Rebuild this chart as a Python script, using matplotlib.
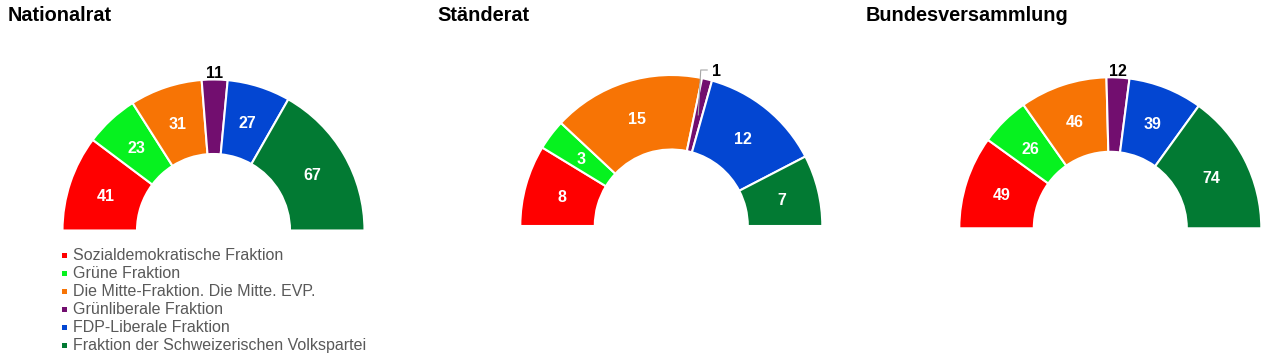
import matplotlib
matplotlib.use("Agg")
import matplotlib.pyplot as plt
import numpy as np
from matplotlib.patches import Rectangle

plt.rcParams['font.family'] = ['Liberation Sans', 'DejaVu Sans']

# Parliamentary groups and seat counts
groups = [
    "Sozialdemokratische Fraktion",
    "Grüne Fraktion",
    "Die Mitte-Fraktion. Die Mitte. EVP.",
    "Grünliberale Fraktion",
    "FDP-Liberale Fraktion",
    "Fraktion der Schweizerischen Volkspartei",
]
colors = ["#FF0000", "#06F21F", "#F77405", "#720E6F", "#0346D2", "#027A33"]

chambers = ["Nationalrat", "Ständerat", "Bundesversammlung"]
nationalrat = [41, 23, 31, 11, 27, 67]
staenderat = [8, 3, 15, 1, 12, 7]
bundesversammlung = [49, 26, 46, 12, 39, 74]
seats = [nationalrat, staenderat, bundesversammlung]

W, H = 1269, 361
fig = plt.figure(figsize=(W / 100, H / 100), dpi=100)
ax = fig.add_axes([0, 0, 1, 1])

# layout in pixel units (x from left, y from top)
centers = [(213.5, 230.5), (671.3, 226.0), (1110.3, 228.3)]
outer_r = 151.0
inner_r = 76.5
title_x = [8, 437, 866]
dy_txt = -1.8  # small downward nudge for the value labels

for name, vals, (cx, cy), tx in zip(chambers, seats, centers, title_x):
    total = sum(vals)
    wedges, _ = ax.pie(
        vals + [total],
        colors=colors + ["none"],
        startangle=180,
        counterclock=False,
        center=(cx, H - cy),
        radius=outer_r,
        wedgeprops=dict(width=outer_r - inner_r, edgecolor="white", linewidth=1.5),
        frame=True,
    )
    wedges[-1].set_visible(False)

    ax.text(tx, H - 20.7, name, ha="left", va="baseline",
            fontsize=14.3, fontweight="bold", color="black")

    cum = 0
    for v in vals:
        frac = v / total
        mid = np.deg2rad(180 - (cum + v / 2) / total * 180)
        cum += v
        if frac >= 0.06:
            rm = (outer_r + inner_r) / 2
            ax.text(cx + rm * np.cos(mid), H - cy + rm * np.sin(mid) + dy_txt,
                    str(v), ha="center", va="center", fontsize=11.5,
                    fontweight="bold", color="white")
        elif frac >= 0.03:
            ro = 159
            ax.text(cx + ro * np.cos(mid), H - cy + ro * np.sin(mid) + dy_txt,
                    str(v), ha="center", va="center", fontsize=11.5,
                    fontweight="bold", color="black")
        else:
            rm = (outer_r + inner_r) / 2
            x0 = cx + rm * np.cos(mid)
            y0 = H - cy + rm * np.sin(mid)
            x1, y1 = x0 + 2.5, H - 70
            ax.plot([x0, x1, x1 + 7], [y0, y1, y1], color="#A6A6A6", lw=0.8,
                    solid_capstyle="butt", zorder=5)
            ax.text(x1 + 16, y1 + dy_txt, str(v), ha="center", va="center",
                    fontsize=11.5, fontweight="bold", color="black")

# legend
for i, (g, c) in enumerate(zip(groups, colors)):
    y = 255.3 + 18 * i
    ax.add_patch(Rectangle((62, H - y - 2.5), 5, 5, facecolor=c, edgecolor="none"))
    ax.text(73, H - y, g, ha="left", va="center", fontsize=11.5, color="#595959")

ax.set_xlim(0, W)
ax.set_ylim(0, H)
ax.set_aspect("auto")
ax.axis("off")

fig.savefig("out.png", dpi=100)
